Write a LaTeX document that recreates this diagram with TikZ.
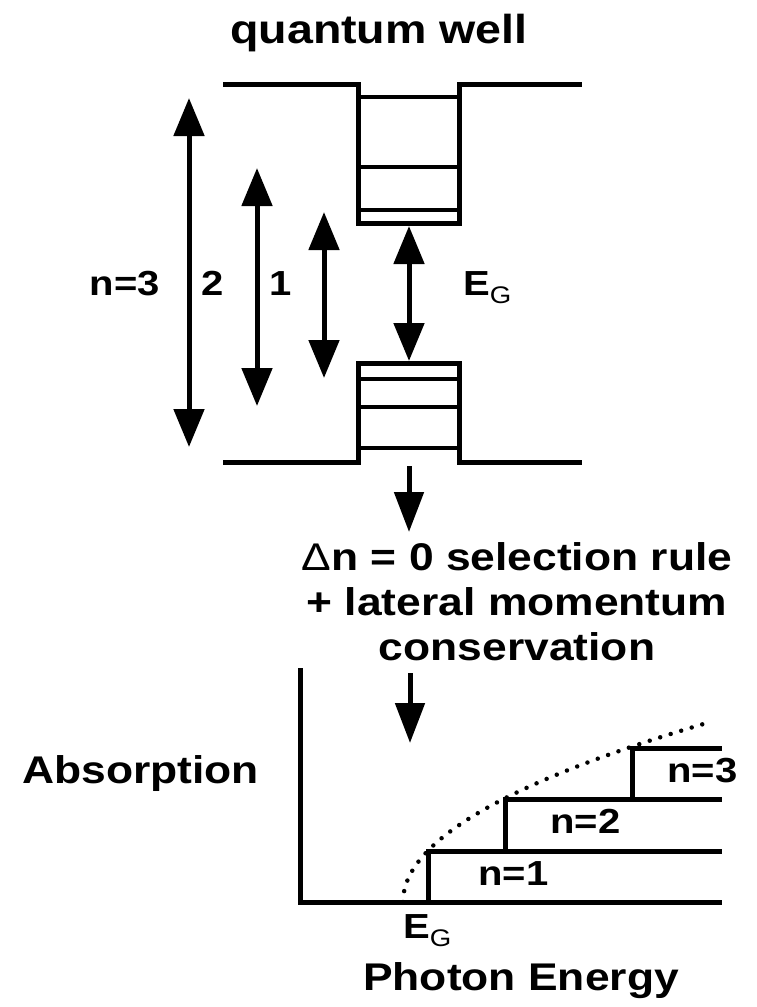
\documentclass[tikz,border=0pt]{standalone}
\usepackage{fontspec}
\setmainfont{Liberation Sans}[FakeStretch=1.15]
\usetikzlibrary{arrows.meta}
\newcommand\EGlabel{E\raisebox{-8pt}{\mdseries\fontsize{24}{24}\selectfont G}}
\begin{document}
\begin{tikzpicture}[x=1pt,y=-1pt,
  bandline/.style={line width=5pt,line join=miter},
  levelline/.style={line width=4pt},
  dblarrow/.style={line width=5pt,{Triangle[width=30pt,length=38pt]}-{Triangle[width=30pt,length=38pt]}},
  downarrow/.style={line width=5pt,-{Triangle[width=29pt,length=40pt]}},
  lbl/.style={font=\bfseries\fontsize{34.8}{40}\selectfont, inner sep=0pt, anchor=base},
  bigtxt/.style={font=\bfseries\fontsize{38.6}{44}\selectfont, inner sep=0pt, anchor=base},
  dotcurve/.style={line width=4.5pt, dash pattern=on 0pt off 11pt, line cap=round}
]
\useasboundingbox (0,0) rectangle (756,1007);

% title
\node[font=\bfseries\fontsize{40.5}{46}\selectfont, inner sep=0pt, anchor=base west] (title) at (230,43) {quantum well};

% conduction band well
\draw[bandline] (223,84) -- (358,84) -- (358,223) -- (459,223) -- (459,84) -- (582,84);
\draw[levelline] (358,97) -- (459,97);
\draw[levelline] (358,167) -- (459,167);
\draw[levelline] (358,210) -- (459,210);

% valence band well
\draw[bandline] (223,462) -- (358,462) -- (358,363) -- (459,363) -- (459,462) -- (582,462);
\draw[levelline] (358,379) -- (459,379);
\draw[levelline] (358,407) -- (459,407);
\draw[levelline] (358,448) -- (459,448);

% transition arrows
\coordinate (a3t) at (189,98);  \coordinate (a3b) at (189,447);
\coordinate (a2t) at (257,168); \coordinate (a2b) at (257,406);
\coordinate (a1t) at (324,212); \coordinate (a1b) at (324,378);
\coordinate (egt) at (409,226); \coordinate (egb) at (409,361);
\draw[dblarrow] (a3t) -- (a3b);
\draw[dblarrow] (a2t) -- (a2b);
\draw[dblarrow] (a1t) -- (a1b);
\draw[dblarrow] (egt) -- (egb);

\node[lbl] (l3) at (125,295) {n=3};
\node[lbl] (l2) at (213,295) {2};
\node[lbl] (l1) at (281,295) {1};
\node[lbl, anchor=base west] (egtop) at (463,295) {\EGlabel};

% first down arrow
\coordinate (d1s) at (409,466); \coordinate (d1e) at (409,532);
\draw[downarrow] (d1s) -- (d1e);

% middle text
\node[bigtxt] (t1) at (517,570) {{\mdseries Δ}n = 0 selection rule};
\node[bigtxt] (t2) at (517,615) {+ lateral momentum};
\node[bigtxt] (t3) at (517,660) {conservation};

% second down arrow
\coordinate (d2s) at (410,673); \coordinate (d2e) at (410,743);
\draw[downarrow] (d2s) -- (d2e);

% absorption graph
\draw[bandline] (300,668) -- (300,902) -- (722,902);
\draw[bandline] (428,902) -- (428,851) -- (722,851);
\draw[bandline] (505,851) -- (505,799) -- (722,799);
\draw[bandline] (632,799) -- (632,748) -- (722,748);
\draw[dotcurve] plot[domain=0:17.52, samples=60, smooth, variable=\t] ({403+\t*\t},{902-10.27*\t});

\node[bigtxt, anchor=base west] (abs) at (22,783) {Absorption};
\node[lbl, anchor=base west] (n1) at (478,885) {n=1};
\node[lbl, anchor=base west] (n2) at (550,833) {n=2};
\node[lbl, anchor=base west] (n3) at (667,782) {n=3};
\node[lbl, anchor=base west] (egbot) at (403,938) {\EGlabel};
\node[bigtxt, anchor=base west] (pe) at (363,990) {Photon Energy};
\end{tikzpicture}
\end{document}
